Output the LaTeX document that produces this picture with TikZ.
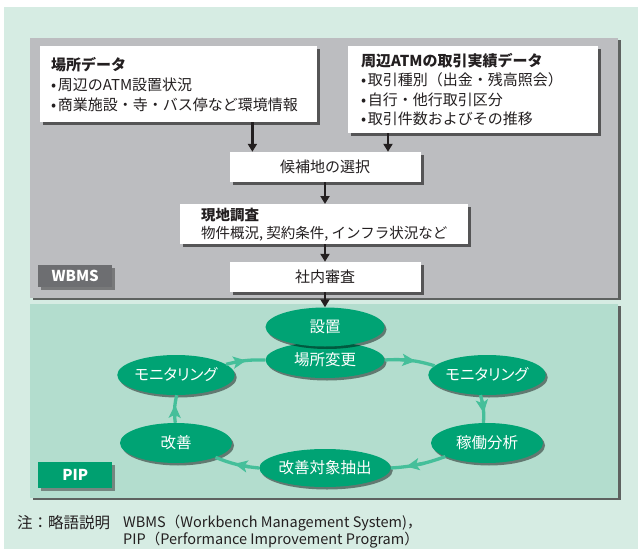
\documentclass[tikz,border=0pt]{standalone}
\usepackage{fontspec}
\setmainfont{Noto Sans CJK JP}
\newfontfamily\paltfont{Noto Sans CJK JP}[RawFeature={+palt}]
\usetikzlibrary{shapes.geometric,shadows,arrows.meta,calc}
\definecolor{bgmint}{HTML}{D6ECE3}
\definecolor{panelgray}{HTML}{BCBDC0}
\definecolor{panelgreen}{HTML}{B3DDCE}
\definecolor{ellgreen}{HTML}{00A374}
\definecolor{arrgreen}{HTML}{45BF9A}
\definecolor{labgray}{HTML}{6D6E71}
\definecolor{labgreen}{HTML}{00A070}
\definecolor{inkc}{HTML}{231F20}
\newcommand{\bul}{•\kern1.5pt}
\tikzset{
  panel/.style={draw=none, inner sep=0pt, anchor=north west,
    drop shadow={shadow xshift=3pt, shadow yshift=-2pt, fill=black!75, opacity=0.8}},
  wbox/.style={fill=white, draw=none, inner sep=0pt, text=inkc,
    font=\fontsize{15}{20}\selectfont,
    drop shadow={shadow xshift=3pt, shadow yshift=-2.5pt, fill=black!80, opacity=0.75}},
  labbox/.style={inner sep=0pt, anchor=north west, text=white,
    font=\fontsize{15}{17}\selectfont\bfseries, minimum width=74pt,
    drop shadow={shadow xshift=2.5pt, shadow yshift=-2.5pt, fill=black!70, opacity=0.6}},
  ell/.style={ellipse, fill=ellgreen, text=white, inner sep=0pt,
    minimum width=112pt, minimum height=40pt,
    font=\fontsize{15.5}{17}\selectfont,
    drop shadow={shadow xshift=2pt, shadow yshift=-2.5pt, fill=black, opacity=0.45}},
  blk/.style={draw=inkc, line width=2.2pt, -{Triangle[length=8pt,width=9pt]}},
  cyc/.style={draw=arrgreen, line width=3.3pt},
  cychead/.style={draw=arrgreen, fill=arrgreen, line width=3.3pt, -{Stealth[length=13pt,width=12pt,inset=3pt]}},
}
\begin{document}
\begin{tikzpicture}[x=1pt,y=-1pt]
\useasboundingbox (0,0) rectangle (638,549);
\fill[white] (0,0) rectangle (638,549);
\fill[bgmint] (4,7) rectangle (638,549);

% panels
\node[panel, fill=panelgray, minimum width=588pt, minimum height=260pt] (wbms) at (30,38) {};
\node[panel, fill=panelgreen, minimum width=588pt, minimum height=194pt] (pip) at (30,304) {};

% boxes
\node[wbox, anchor=north west, minimum width=277pt, minimum height=76pt, text width=255pt, align=left] (b1) at (40,46)
  {{\bfseries 場所データ}\\\bul 周辺のATM設置状況\\\bul 商業施設・寺・バス停など環境情報};
\node[wbox, anchor=north west, minimum width=250pt, minimum height=87pt, text width=224pt, align=left,
  font=\fontsize{15}{19.5}\selectfont] (b2) at (348,46)
  {{\bfseries 周辺ATMの取引実績データ}\\\bul 取引種別（出金・残高照会）\\\bul 自行・他行取引区分\\\bul 取引件数およびその推移};
\node[wbox, minimum width=191pt, minimum height=30pt] (cand) at (325,167) {候補地の選択};
\node[wbox, anchor=north west, minimum width=288pt, minimum height=40pt, align=left,
  font=\fontsize{14.5}{18}\selectfont] (field) at (180,204)
  {{\bfseries 現地調査}\\物件概況, 契約条件, インフラ状況など};
\node[wbox, minimum width=191pt, minimum height=30pt] (review) at (325,277) {社内審査};

% labels
\node[labbox, fill=labgray, minimum height=22pt] (wlab) at (38,265) {WBMS};
\node[labbox, fill=labgreen, minimum height=26pt] (plab) at (38,462) {PIP};

% ellipses
\node[ell, minimum width=119pt, minimum height=36pt] (loc) at (325,360) {場所変更};
\node[ell, minimum width=119pt, minimum height=39pt] (set) at (325,327) {設置};
\node[ell] (monL) at (176,375) {\paltfont モニタリング};
\node[ell] (monR) at (487,375) {\paltfont モニタリング};
\node[ell] (kaizen) at (176,443) {改善};
\node[ell] (kado) at (487,443) {稼働分析};
\node[ell, minimum width=119pt, minimum height=38pt] (extract) at (325,468) {改善対象抽出};

% black arrows
\draw[blk] ([xshift=-65pt]b1.south east) -- ([xshift=-65pt]b1.south east |- cand.north);
\draw[blk] ([xshift=40pt]b2.south west) -- ([xshift=40pt]b2.south west |- cand.north);
\draw[blk] (cand.south) -- (field.north -| cand.south);
\draw[blk] (field.south -| review.north) -- (review.north);
\draw[blk] (review.south) -- (set.north);

% cycle arrows
\draw[cyc] (loc.east) to[bend left=10] coordinate[pos=0.3] (a1) coordinate[pos=0.62] (a2) (monR.170);
\draw[cychead] (a1) -- (a2);
\draw[cyc] (monR.252) to[bend left=10] coordinate[pos=0.2] (b1a) coordinate[pos=0.66] (b1b) (kado.100);
\draw[cychead] (b1a) -- (b1b);
\draw[cyc] (kado.198) to[bend left=8] coordinate[pos=0.4] (c1) coordinate[pos=0.74] (c2) (extract.east);
\draw[cychead] (c1) -- (c2);
\draw[cyc] (extract.west) to[bend left=8] coordinate[pos=0.2] (d1) coordinate[pos=0.56] (d2) (kaizen.340);
\draw[cychead] (d1) -- (d2);
\draw[cyc] (kaizen.92) to[bend left=10] coordinate[pos=0.2] (e1) coordinate[pos=0.66] (e2) (monL.272);
\draw[cychead] (e1) -- (e2);
\draw[cyc] (monL.12) to[bend left=8] coordinate[pos=0.2] (f1) coordinate[pos=0.52] (f2) (loc.west);
\draw[cychead] (f1) -- (f2);

% footnote
\node[anchor=west, text=inkc, inner sep=0pt, font=\fontsize{15.5}{17}\selectfont] (note) at (17,523) {注：略語説明};
\node[anchor=north west, align=left, text=inkc, inner sep=0pt, font=\fontsize{14.5}{16}\selectfont] (notetext) at (123,515)
  {WBMS（Workbench Management System)，\\PIP（Performance Improvement Program）};
\end{tikzpicture}
\end{document}
